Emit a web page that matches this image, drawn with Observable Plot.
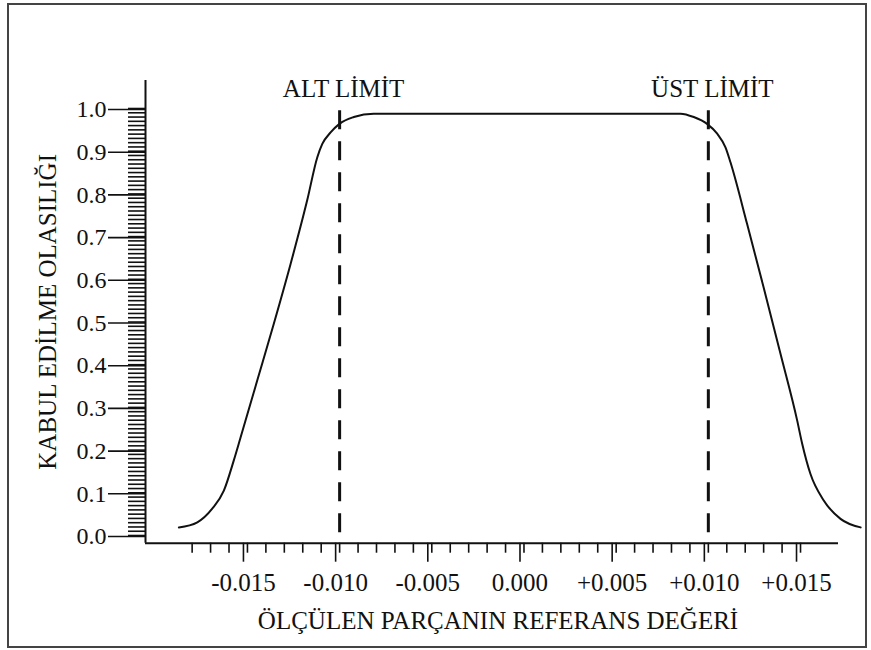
<!DOCTYPE html>
<html><head><meta charset="utf-8">
<script src="https://cdn.jsdelivr.net/npm/d3@7"></script>
<script src="https://cdn.jsdelivr.net/npm/@observablehq/plot@0.6"></script>
<style>
html,body{margin:0;padding:0;background:#fff;}
#wrap{position:relative;width:871px;height:650px;overflow:hidden;}
#frame{position:absolute;left:7px;top:3px;width:856px;height:641px;border:2px solid #444;pointer-events:none;}
svg text{font-family:'Liberation Serif','Times New Roman',serif;}
</style></head><body>
<div id="wrap"><div id="chart"></div><div id="frame"></div></div>
<script>
// Curve (OC curve) values
const xValues = [-0.01872, -0.01772, -0.01691, -0.01628, -0.01574, -0.01537, -0.01447, -0.01357, -0.01266, -0.01176, -0.01121, -0.01094, -0.01049, -0.01001, -0.00923, -0.00815, 0, 0.00849, 0.00921, 0.00993, 0.01048, 0.01093, 0.0112, 0.0121, 0.0130, 0.01391, 0.01482, 0.01509, 0.01554, 0.01626, 0.01717, 0.01826];
const yValues = [0.019, 0.031, 0.063, 0.105, 0.176, 0.230, 0.363, 0.496, 0.636, 0.785, 0.886, 0.917, 0.944, 0.964, 0.980, 0.988, 0.988, 0.988, 0.980, 0.964, 0.941, 0.909, 0.874, 0.730, 0.581, 0.426, 0.269, 0.215, 0.144, 0.082, 0.039, 0.019];

const limits = [-0.010, 0.010];
const limitLabels = ["ALT LİMİT", "ÜST LİMİT"];
const limitTop = 0.995;

const xMajorTicks = [-0.015, -0.010, -0.005, 0, 0.005, 0.010, 0.015];
const xTickLabels = ["-0.015", "-0.010", "-0.005", "0.000", "+0.005", "+0.010", "+0.015"];
const xMinorTicks = d3.range(-18, 16).map(i => i / 1000);

const yMajorTicks = [0, 0.1, 0.2, 0.3, 0.4, 0.5, 0.6, 0.7, 0.8, 0.9, 1.0];
const yTickLabels = ["0.0", "0.1", "0.2", "0.3", "0.4", "0.5", "0.6", "0.7", "0.8", "0.9", "1.0"];
const yMinorTicks = d3.range(0, 101).map(i => i / 100);

const xTitle = "ÖLÇÜLEN PARÇANIN REFERANS DEĞERİ";
const yTitle = "KABUL EDİLME OLASILIĞI";

const xDomain = [-0.02053, 0.01706];
const yDomain = [-0.018, 1.0656];

const data = xValues.map((x, i) => ({x, y: yValues[i]}));
const xLab = new Map(xMajorTicks.map((v, i) => [v, xTickLabels[i]]));
const yLab = new Map(yMajorTicks.map((v, i) => [v, yTickLabels[i]]));

const font = "'Liberation Serif', 'Times New Roman', serif";

const chart = Plot.plot({
  width: 871, height: 650,
  marginLeft: 145, marginRight: 33, marginTop: 80, marginBottom: 107.3,
  style: {fontFamily: font, fontSize: "24px", color: "#111", background: "transparent", overflow: "visible"},
  x: {domain: xDomain},
  y: {domain: yDomain},
  marks: [
    Plot.axisY(yMinorTicks, {tickSize: 17, text: null, strokeWidth: 1.6, label: null}),
    Plot.axisY(yMajorTicks, {tickSize: 37, tickPadding: 2, tickFormat: d => yLab.get(d), fontSize: 24, fontFamily: font, strokeWidth: 1.6, label: null, dy: 1}),
    Plot.axisX(xMinorTicks, {tickSize: 10, text: null, strokeWidth: 1.6, label: null}),
    Plot.axisX(xMajorTicks, {tickSize: 19, tickPadding: 11.5, tickFormat: d => xLab.get(d), fontSize: 25, fontFamily: font, strokeWidth: 1.6, label: null, dx: -4}),
    Plot.ruleX([xDomain[0]], {strokeWidth: 2, stroke: "#111"}),
    Plot.ruleY([yDomain[0]], {strokeWidth: 2, stroke: "#111"}),
    Plot.ruleX(limits, {y1: limitTop, y2: yDomain[0], strokeDasharray: "19,12", strokeWidth: 3, stroke: "#111"}),
    Plot.line(data, {x: "x", y: "y", curve: "monotone-x", strokeWidth: 2, stroke: "#111"}),
    Plot.text(limitLabels, {x: (d, i) => limits[i], frameAnchor: "top", lineAnchor: "bottom", textAnchor: "middle", dy: 16.7, dx: 4, fontSize: 25, fontFamily: font, fill: "#111"}),
    Plot.text([xTitle], {frameAnchor: "bottom", lineAnchor: "bottom", textAnchor: "middle", dy: 85.3, dx: 6, fontSize: 25, fontFamily: font, fill: "#111"}),
    Plot.text([yTitle], {frameAnchor: "left", rotate: -90, lineAnchor: "bottom", textAnchor: "middle", dx: -90, fontSize: 25, fontFamily: font, fill: "#111"})
  ]
});
document.getElementById("chart").appendChild(chart);
</script>
</body></html>
